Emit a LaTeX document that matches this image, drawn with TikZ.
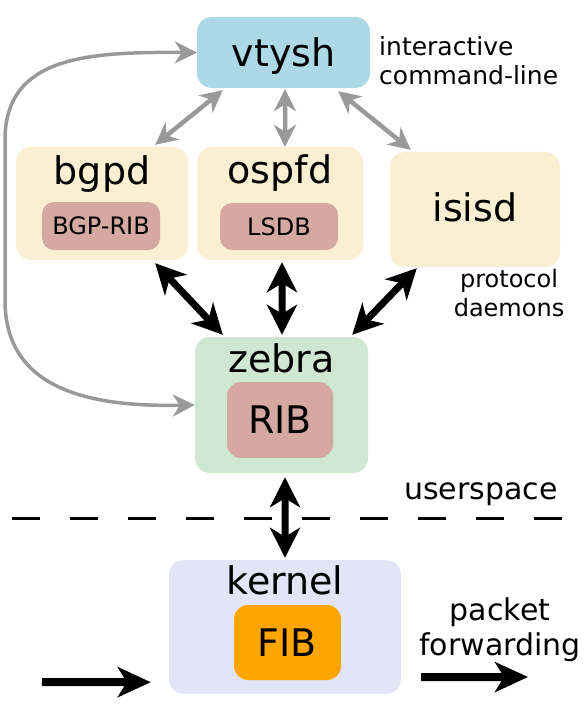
\documentclass[tikz,border=0pt]{standalone}
\usepackage{fontspec}
\setmainfont{DejaVu Sans}
\usetikzlibrary{arrows.meta}

\definecolor{vtyshblue}{HTML}{ADD8E6}
\definecolor{daemoncream}{HTML}{FAEFD3}
\definecolor{ribrose}{HTML}{D5A9A1}
\definecolor{zebragreen}{HTML}{D0E7D1}
\definecolor{kernelblue}{HTML}{E3E4F6}
\definecolor{fiborange}{HTML}{FFA500}
\definecolor{arrowgray}{HTML}{999999}

\begin{document}
\begin{tikzpicture}[x = 1bp, y = -1bp,
    box/.style = {rounded corners = 15bp, inner sep = 0pt},
    ribbox/.style = {rounded corners = 12bp, inner sep = 0pt, font = \fontsize{24bp}{28bp}\selectfont},
    procname/.style = {inner sep = 0pt, font = \fontsize{38bp}{44bp}\selectfont},
    sidenote/.style = {inner sep = 0pt},
    grayarrow/.style = {draw = arrowgray, line width = 4.5bp, >= {Stealth[length = 22bp, width = 22bp, inset = 7bp]}, <->},
    blackarrow/.style = {draw = black, line width = 7bp, >= {Stealth[length = 30bp, width = 30bp, inset = 9bp]}, <->},
    pktarrow/.style = {draw = black, line width = 8bp, >= {Stealth[length = 33bp, width = 30bp, inset = 9bp]}, ->}]
    \useasboundingbox (0, 0) rectangle (588, 708);

    % vtysh
    \node[box, fill = vtyshblue, minimum width = 173bp, minimum height = 71bp] (vtysh) at (283.5, 52.5) {};
    \node[procname, anchor = base] (vtyshname) at ([yshift = -50bp]vtysh.north) {vtysh};
    \node[sidenote, anchor = west, align = left, font = \fontsize{25bp}{29bp}\selectfont] (vtyshnote) at (379, 61) {interactive\\command-line};

    % protocol daemons
    \node[box, fill = daemoncream, minimum width = 172bp, minimum height = 113bp] (bgpd) at (102, 203.5) {};
    \node[procname, anchor = base] (bgpdname) at ([yshift = -38bp]bgpd.north) {bgpd};
    \node[ribbox, fill = ribrose, minimum width = 118bp, minimum height = 48bp] (bgprib) at (101, 226) {BGP-RIB};

    \node[box, fill = daemoncream, minimum width = 166bp, minimum height = 113bp] (ospfd) at (280, 203.5) {};
    \node[procname, anchor = base] (ospfdname) at ([yshift = -37bp]ospfd.north) {ospfd};
    \node[ribbox, fill = ribrose, minimum width = 118bp, minimum height = 47bp] (lsdb) at (279, 226.5) {LSDB};

    \node[box, fill = daemoncream, minimum width = 170bp, minimum height = 115bp] (isisd) at (475, 209.5) {};
    \node[procname, anchor = base] (isisdname) at ([yshift = -70bp]isisd.north) {isisd};
    \node[sidenote, align = center, font = \fontsize{24bp}{29bp}\selectfont] (isisdnote) at (509, 293) {protocol\\daemons};

    % zebra
    \node[box, fill = zebragreen, minimum width = 173bp, minimum height = 136bp] (zebra) at (281.5, 405) {};
    \node[procname, anchor = base] (zebraname) at ([yshift = -36bp]zebra.north) {zebra};
    \node[ribbox, rounded corners = 14bp, fill = ribrose, minimum width = 106bp, minimum height = 76bp, font = \fontsize{38bp}{44bp}\selectfont] (rib) at (280, 420) {RIB};

    % userspace / kernel
    \node[sidenote, anchor = base west, font = \fontsize{30bp}{36bp}\selectfont] (userspace) at (404, 499) {userspace};
    \draw[line width = 3bp, dash pattern = on 28bp off 30bp] (12, 518) -- (576, 518);

    \node[box, fill = kernelblue, minimum width = 232bp, minimum height = 134bp] (kernel) at (285, 627) {};
    \node[procname, anchor = base] (kernelname) at ([yshift = -35bp]kernel.north) {kernel};
    \node[ribbox, rounded corners = 14bp, fill = fiborange, minimum width = 107bp, minimum height = 75bp, font = \fontsize{38bp}{44bp}\selectfont] (fib) at (287.5, 642.5) {FIB};
    \node[sidenote, align = center, font = \fontsize{30bp}{35bp}\selectfont] (fwdnote) at (500, 629.5) {packet\\forwarding};

    % vtysh links
    \draw[grayarrow] ([xshift = 26bp, yshift = -2bp]vtysh.south west) -- ([xshift = -33bp, yshift = 2bp]bgpd.north east);
    \draw[grayarrow] ([xshift = 1.5bp, yshift = -1bp]vtysh.south) -- ([xshift = 5bp, yshift = 0bp]ospfd.north);
    \draw[grayarrow] ([xshift = -32bp, yshift = -3bp]vtysh.south east) -- ([xshift = 21bp, yshift = 2bp]isisd.north west);
    \draw[grayarrow, line width = 3.5bp] (vtysh.west) .. controls (90, 52) and (5, 55) .. (5, 140) -- (5, 300) .. controls (5, 390) and (90, 407) .. (zebra.west);

    % zebra links
    \draw[blackarrow] ([xshift = -33bp, yshift = -3bp]bgpd.south east) -- ([xshift = 28bp, yshift = 2bp]zebra.north west);
    \draw[blackarrow] ([xshift = 2bp, yshift = -2bp]ospfd.south) -- ([xshift = 0.5bp, yshift = 2bp]zebra.north);
    \draw[blackarrow] ([xshift = 27bp, yshift = -1bp]isisd.south west) -- ([xshift = -16bp, yshift = 2bp]zebra.north east);
    \draw[blackarrow] ([xshift = 3.5bp, yshift = -4bp]zebra.south) -- ([yshift = 2bp]kernel.north);

    % packets
    \coordinate (pktin) at (42, 682);
    \coordinate (pktout) at (528, 677);
    \draw[pktarrow] (pktin) -- ([xshift = -18bp, yshift = 12bp]kernel.south west);
    \draw[pktarrow] ([xshift = 20bp, yshift = 17bp]kernel.south east) -- (pktout);
\end{tikzpicture}
\end{document}
